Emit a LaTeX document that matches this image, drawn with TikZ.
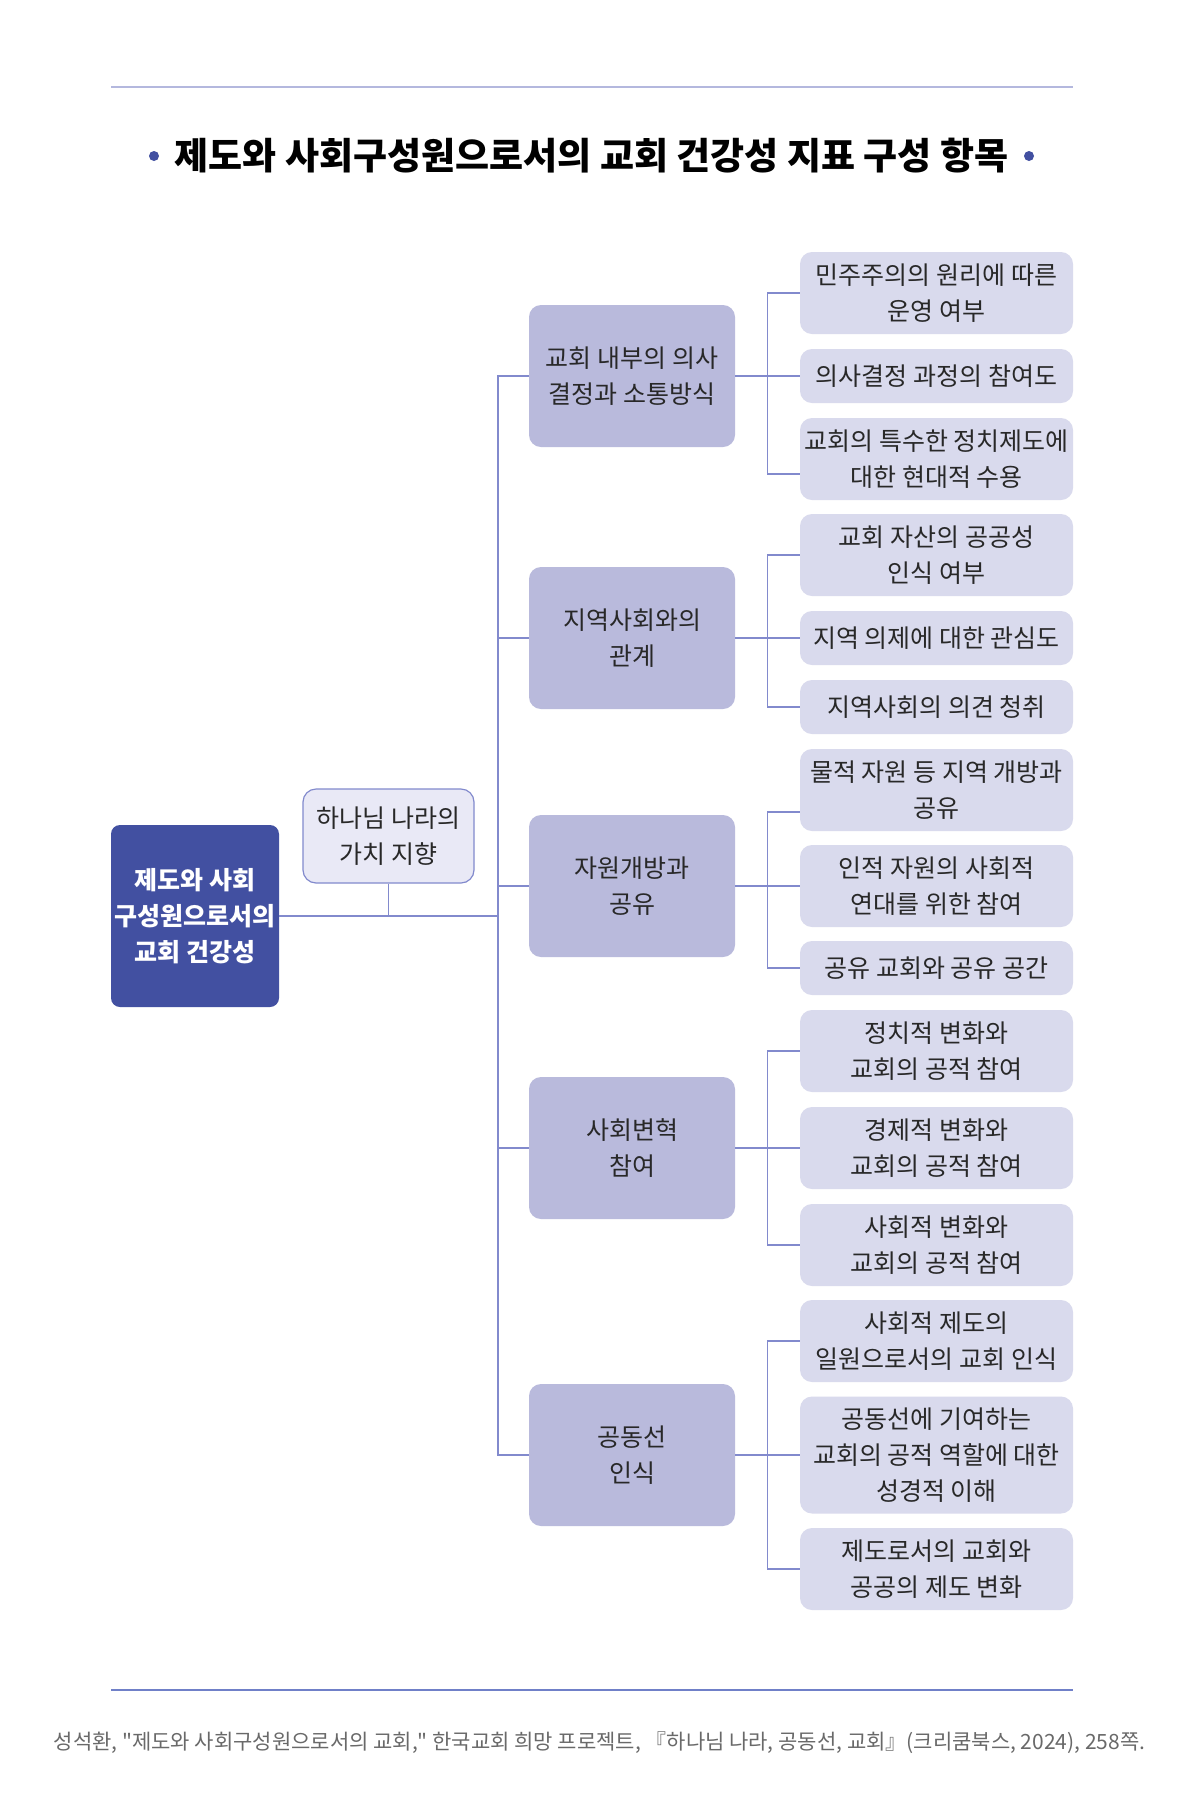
\documentclass[tikz,border=0pt]{standalone}
\usepackage{fontspec}
\setmainfont{Noto Sans CJK KR}
\definecolor{color1}{RGB}{66,80,161}
\definecolor{color2}{RGB}{185,186,220}
\definecolor{color3}{RGB}{217,218,237}
\definecolor{color4}{RGB}{233,233,246}
\definecolor{color5}{RGB}{130,138,205}
\definecolor{color6}{RGB}{180,184,222}
\definecolor{color7}{RGB}{112,128,200}
\definecolor{color8}{RGB}{40,40,40}
\definecolor{color9}{RGB}{105,105,105}
\begin{document}
\begin{tikzpicture}[x=1pt, y=-1pt,
    link/.style={draw=color5, line width=1.3pt},
    rootbox/.style={fill=color1, rounded corners=9pt, minimum width=168pt, minimum height=182pt, inner sep=0pt, align=center, text=white, font=\fontsize{25}{36}\selectfont\bfseries},
    valuebox/.style={fill=color4, draw=color5, line width=1.2pt, rounded corners=13pt, minimum width=171pt, minimum height=94pt, inner sep=0pt, align=center, text=color8, font=\fontsize{25}{36}\selectfont},
    groupbox/.style={fill=color2, rounded corners=12pt, minimum width=206pt, minimum height=142pt, inner sep=0pt, align=center, text=color8, font=\fontsize{25}{36}\selectfont},
    leafbox/.style={fill=color3, rounded corners=12pt, minimum width=273pt, inner sep=0pt, align=center, text=color8, font=\fontsize{25}{36}\selectfont},
    dot/.style={circle, fill=color1, inner sep=0pt, minimum size=10pt}]
    \fill[white] (0,0) rectangle (1200,1800);
    \useasboundingbox (0,0) rectangle (1200,1800);

    % rules and title
    \draw[color6, line width=2.2pt] (111,87) -- (1073,87);
    \draw[color7, line width=2.2pt] (111,1690) -- (1073,1690);
    \node[font=\fontsize{37}{42}\selectfont\bfseries, text=black] (title) at (591.5,156) {제도와 사회구성원으로서의 교회 건강성 지표 구성 항목};
    \node[dot] (dotl) at (154,156) {};
    \node[dot] (dotr) at (1029,156) {};

    % left side
    \node[rootbox] (root) at (195,916) {제도와 사회\\구성원으로서의\\교회 건강성};
    \node[valuebox] (value) at (388.5,836) {하나님 나라의\\가치 지향};
    \coordinate (trunk) at (498,916);

    % groups
    \foreach \n/\y/\t in {m1/376/{교회 내부의 의사\\결정과 소통방식}, m2/638/{지역사회와의\\관계}, m3/886/{자원개방과\\공유}, m4/1148/{사회변혁\\참여}, m5/1455/{공동선\\인식}}
    \node[groupbox] (\n) at (632,\y) {\t};

    % items
    \foreach \n/\y/\h/\t in {
        r1/293/82/{민주주의의 원리에 따른\\운영 여부},
        r2/376/54/{의사결정 과정의 참여도},
        r3/459/82/{교회의 특수한 정치제도에\\대한 현대적 수용},
        r4/555/82/{교회 자산의 공공성\\인식 여부},
        r5/638/54/{지역 의제에 대한 관심도},
        r6/707/54/{지역사회의 의견 청취},
        r7/790/82/{물적 자원 등 지역 개방과\\공유},
        r8/886/82/{인적 자원의 사회적\\연대를 위한 참여},
        r9/968/54/{공유 교회와 공유 공간},
        r10/1051/82/{정치적 변화와\\교회의 공적 참여},
        r11/1148/82/{경제적 변화와\\교회의 공적 참여},
        r12/1245/82/{사회적 변화와\\교회의 공적 참여},
        r13/1341/82/{사회적 제도의\\일원으로서의 교회 인식},
        r14/1455/117/{공동선에 기여하는\\교회의 공적 역할에 대한\\성경적 이해},
        r15/1569/82/{제도로서의 교회와\\공공의 제도 변화}}
    \node[leafbox, minimum height=\h pt] (\n) at (936.5,\y) {\t};

    % connectors
    \draw[link] (root.east) -- (trunk);
    \draw[link] (value.south) -- (value.south |- root.east);
    \draw[link] (m1.west) -| (trunk) |- (m5.west);
    \foreach \m in {m2,m3,m4}
    \draw[link] (\m.west) -- (\m.west -| trunk);

    \foreach \m/\a/\b/\c/\ta/\tb in {m1/r1/r2/r3/0/15, m2/r4/r5/r6/0/0, m3/r7/r8/r9/22/0, m4/r10/r11/r12/0/0, m5/r13/r14/r15/0/0}
    {
        \draw[link] (\m.east) -- (\b.west);
        \draw[link] ([yshift=-\ta pt]\a.west) -- ++(-32,0) |- ([yshift=-\tb pt]\c.west);
    }

    % source
    \node[font=\fontsize{21}{26}\selectfont, text=color9] (source) at (599.5,1743) {성석환, \textquotedbl 제도와 사회구성원으로서의 교회,\textquotedbl{} 한국교회 희망 프로젝트, 『하나님 나라, 공동선, 교회』(크리쿰북스, 2024), 258쪽.};
\end{tikzpicture}
\end{document}
